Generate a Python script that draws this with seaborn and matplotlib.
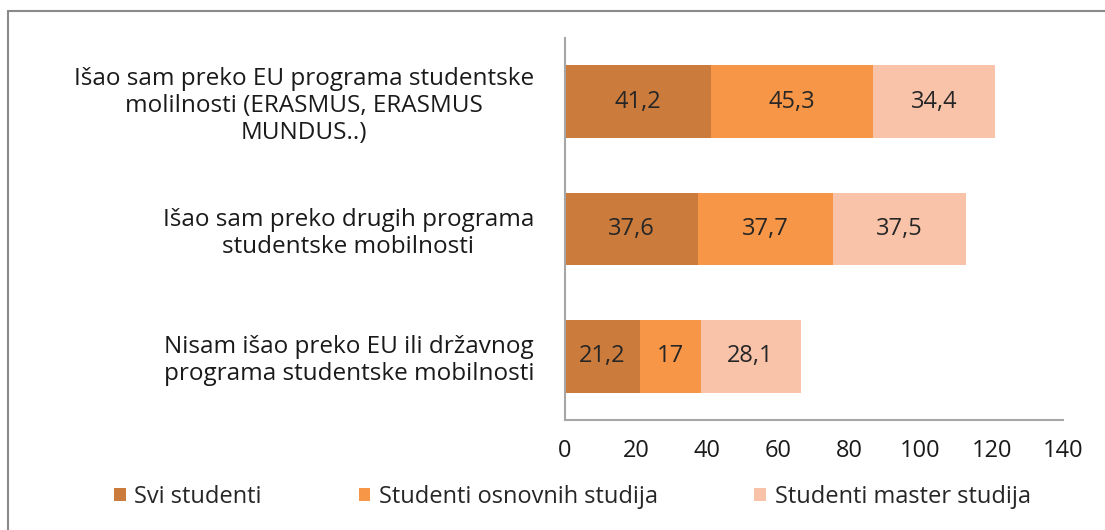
import numpy as np
import pandas as pd
import matplotlib
matplotlib.use("Agg")
import matplotlib.pyplot as plt
from matplotlib.lines import Line2D
from matplotlib.patches import Patch
import seaborn as sns

# Data
categories = [
    "Išao sam preko EU programa studentske\nmolilnosti (ERASMUS, ERASMUS\nMUNDUS..)",
    "Išao sam preko drugih programa\nstudentske mobilnosti",
    "Nisam išao preko EU ili državnog\nprograma studentske mobilnosti",
]
svi = [41.2, 37.6, 21.2]
osnovni = [45.3, 37.7, 17]
master = [34.4, 37.5, 28.1]
value_labels = [
    ["41,2", "37,6", "21,2"],
    ["45,3", "37,7", "17"],
    ["34,4", "37,5", "28,1"],
]
series_names = ["Svi studenti", "Studenti osnovnih studija", "Studenti master studija"]
colors = ["#CB7B3B", "#F79646", "#F9C3A9"]
x_ticks = [0, 20, 40, 60, 80, 100, 120, 140]

sns.set_theme(style="white")
plt.rcParams["font.family"] = ["Open Sans", "DejaVu Sans"]

df = pd.DataFrame({"cat": categories, "svi": svi, "osn": osnovni, "mas": master})
df["c1"] = df["svi"]
df["c2"] = df["svi"] + df["osn"]
df["c3"] = df["c2"] + df["mas"]

fig = plt.figure(figsize=(11.05, 5.30), dpi=100)
ax = fig.add_axes([0.511, 0.2075, 0.451, 0.7208])

# stacked look: draw the running totals from largest to smallest
for col, c in zip(["c3", "c2", "c1"], colors[::-1]):
    sns.barplot(data=df, x=col, y="cat", color=c, orient="h", width=0.57,
                saturation=1, ax=ax, linewidth=0)

# value labels in the middle of each segment
starts = [np.zeros(3), df["c1"].values, df["c2"].values]
for vals, st, labs in zip([svi, osnovni, master], starts, value_labels):
    for i in range(3):
        ax.text(st[i] + vals[i] / 2, i, labs[i], ha="center", va="center",
                fontsize=17, color="#262626")

ax.set_xlim(0, 140)
ax.set_ylim(2.5, -0.5)
ax.set_xticks(x_ticks)
ax.set_xticklabels([str(t) for t in x_ticks], fontsize=17, color="#1a1a1a")
ax.tick_params(axis="x", length=0, pad=14)
ax.tick_params(axis="y", length=0, pad=22)
for lab in ax.get_yticklabels():
    lab.set_fontsize(17.5)
    lab.set_multialignment("center")
    lab.set_color("#1a1a1a")
    lab.set_linespacing(1.15)
ax.set_xlabel("")
ax.set_ylabel("")
sns.despine(ax=ax)
for s in ["left", "bottom"]:
    ax.spines[s].set_color("#a6a6a6")
    ax.spines[s].set_linewidth(1.5)

handles = [Patch(facecolor=c, edgecolor="none") for c in colors]
fig.legend(handles, series_names, loc="center", bbox_to_anchor=(0.518, 0.062),
           ncol=3, frameon=False, fontsize=17, handlelength=0.5, handleheight=0.5,
           handletextpad=0.35, columnspacing=4.1)

# outer frame (left and top edges only)
fig.add_artist(Line2D([8 / 1105, 8 / 1105], [0, 1 - 11 / 530], color="#8a8a8a", lw=1.5))
fig.add_artist(Line2D([8 / 1105, 1], [1 - 11 / 530, 1 - 11 / 530], color="#8a8a8a", lw=1.5))

fig.savefig("out.png", dpi=100)
